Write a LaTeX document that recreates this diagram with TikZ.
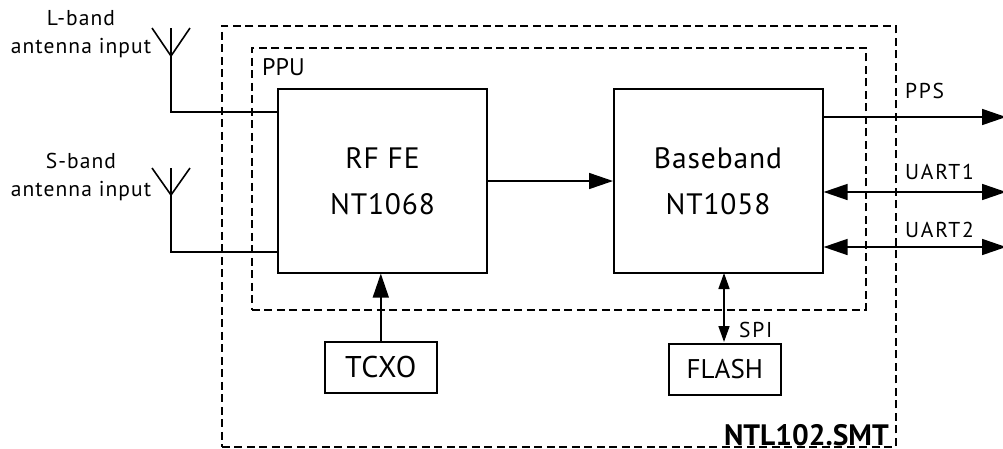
\documentclass[tikz,border=0pt]{standalone}
\usepackage{fontspec}
\setmainfont{PT Sans}
\newfontfamily\spfive[LetterSpace=5]{PT Sans}
\newfontfamily\speight[LetterSpace=8]{PT Sans}
\newfontfamily\spthree[LetterSpace=3]{PT Sans}
\usetikzlibrary{arrows.meta}
\tikzset{
  blk/.style={draw,line width=1.6pt,minimum width=#1,inner sep=0pt,anchor=north west,align=center},
  zone/.style={draw,line width=1.6pt,dash pattern=on 8pt off 4.5pt},
  wire/.style={line width=1.6pt},
  sig/.style={line width=1.6pt,-{Triangle[length=24pt,width=16pt]}},
  bisig/.style={line width=1.6pt,{Triangle[length=24pt,width=16pt]}-{Triangle[length=24pt,width=16pt]}},
  spi/.style={line width=1.6pt,{Triangle[length=16pt,width=11pt]}-{Triangle[length=16pt,width=11pt]}},
  lab/.style={inner sep=0pt,font=\speight\fontsize{21.5}{27.5}\selectfont},
  ant/.style={inner sep=0pt,align=center,font=\spfive\fontsize{21.5}{27.5}\selectfont},
  big/.style={inner sep=0pt,font=\spthree\fontsize{29.5}{46.5}\selectfont,align=center},
}
\begin{document}
\begin{tikzpicture}[x=1pt,y=-1pt]
\useasboundingbox (0,0) rectangle (1003,448);
\node[zone,minimum width=674pt,minimum height=421pt,anchor=north west,inner sep=0pt] (outer) at (221,25) {};
\node[zone,minimum width=614pt,minimum height=262pt,anchor=north west,inner sep=0pt] (ppu) at (251,47) {};
\node[inner sep=0pt,anchor=base west,font=\fontsize{24}{26}\selectfont] (ppul) at (262,75) {PPU};
\node[blk=209pt,minimum height=184pt] (rf) at (277,88) {};
\node[blk=209pt,minimum height=184pt] (bb) at (613,88) {};
\node[big] (rft) at (382.5,181) {RF FE\\NT1068};
\node[big] (bbt) at (718,181) {Baseband\\NT1058};
\node[blk=112pt,minimum height=51pt,font=\spthree\fontsize{30}{32}\selectfont] (tcxo) at (324,341) {TCXO};
\node[blk=112pt,minimum height=51pt,font=\fontsize{27}{30}\selectfont] (flash) at (668,343) {FLASH};
\node[lab,anchor=base west] (spil) at (739,337) {SPI};
\node[inner sep=0pt,anchor=base east,font=\bfseries\fontsize{29.5}{32}\selectfont] (ntl) at (889,445) {NTL102.SMT};
\node[ant] (lt) at (81,34) {L-band\\antenna input};
\node[ant] (st) at (81,177) {S-band\\antenna input};
\node[lab,anchor=base west] (pps) at (905,98) {PPS};
\node[lab,anchor=base west] (u1) at (905,179) {UART1};
\node[lab,anchor=base west] (u2) at (905,237) {UART2};
\coordinate (la) at (171,56); \coordinate (lb) at (171,112);
\coordinate (sa) at (171,195); \coordinate (sb) at (171,252);
\draw[wire] (152,28) -- (la) -- (190,28);
\draw[wire] (171,28) -- (la) -- (lb) -- (lb -| rf.west);
\draw[wire] (152,168) -- (sa) -- (190,168);
\draw[wire] (171,168) -- (sa) -- (sb) -- (sb -| rf.west);
\draw[sig] (rf.east |- 0,181) -- (bb.west |- 0,181);
\draw[sig] (tcxo.north) -- (tcxo.north |- rf.south);
\draw[sig] (bb.east |- 0,117) -- (1006,117);
\draw[bisig] (bb.east |- 0,192) -- (1006,192);
\draw[bisig] (bb.east |- 0,247) -- (1006,247);
\draw[spi] (724,273) -- (724,342);
\end{tikzpicture}
\end{document}
